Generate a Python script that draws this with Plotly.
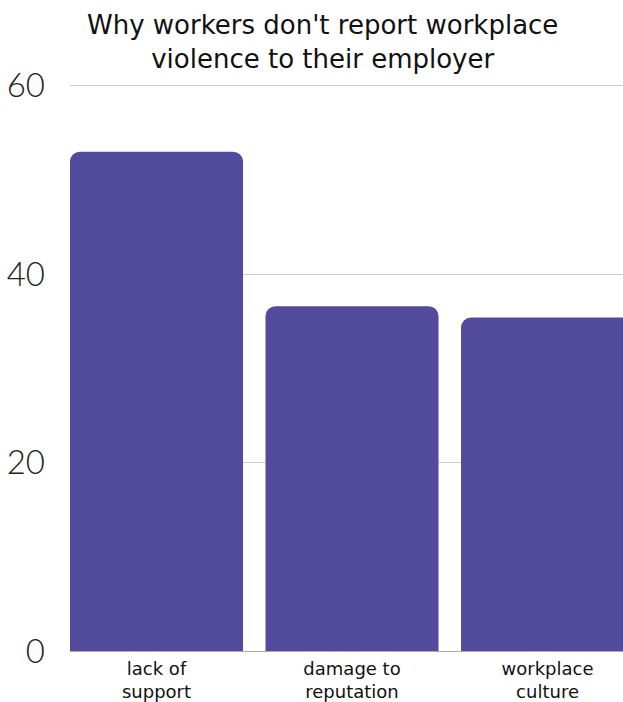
import plotly.graph_objects as go

categories = ["lack of<br>support", "damage to<br>reputation", "workplace<br>culture"]
values = [53, 36.6, 35.4]
tick_vals = [0, 20, 40, 60]
tick_text = ["0", "20", "40", "60"]
title_text = "Why workers don't report workplace<br>violence to their employer"

W, H = 623, 702
M_L, M_R, M_T, M_B = 70, 0, 76, 51
plot_h = H - M_T - M_B


def paper_y(px):
    """Convert a pixel row (from top of page) into paper y coordinates."""
    return (H - M_B - px) / plot_h


fig = go.Figure(
    go.Bar(
        x=categories,
        y=values,
        marker=dict(color="#514a9d", line=dict(width=0)),
        width=0.885,
        hoverinfo="x+y",
    )
)

fig.update_layout(
    width=W,
    height=H,
    margin=dict(l=M_L, r=M_R, t=M_T, b=M_B, pad=0),
    paper_bgcolor="white",
    plot_bgcolor="white",
    barcornerradius=10,
    showlegend=False,
    annotations=[dict(
        text=title_text, xref="paper", yref="paper",
        x=(322 - M_L) / (W - M_L - M_R), y=paper_y(42),
        xanchor="center", yanchor="middle", showarrow=False,
        font=dict(family="DejaVu Sans", size=26, color="#111111"),
    )],
    xaxis=dict(
        range=[-0.4425, 2.386],
        showgrid=False,
        showline=False,
        ticks="",
        automargin=False,
        ticklabelstandoff=5,
        tickfont=dict(family="DejaVu Sans", size=18, color="#111111"),
        fixedrange=True,
    ),
    yaxis=dict(
        range=[0, 61.03],
        tickvals=tick_vals,
        ticktext=tick_text,
        showgrid=True,
        gridcolor="#cccccc",
        gridwidth=1,
        zeroline=True,
        zerolinecolor="#aaaaaa",
        zerolinewidth=1,
        ticks="",
        automargin=False,
        ticklabelstandoff=24,
        tickfont=dict(family="Lato", size=33, color="#222222", weight=300),
        fixedrange=True,
    ),
)

fig.write_html("out.html")
